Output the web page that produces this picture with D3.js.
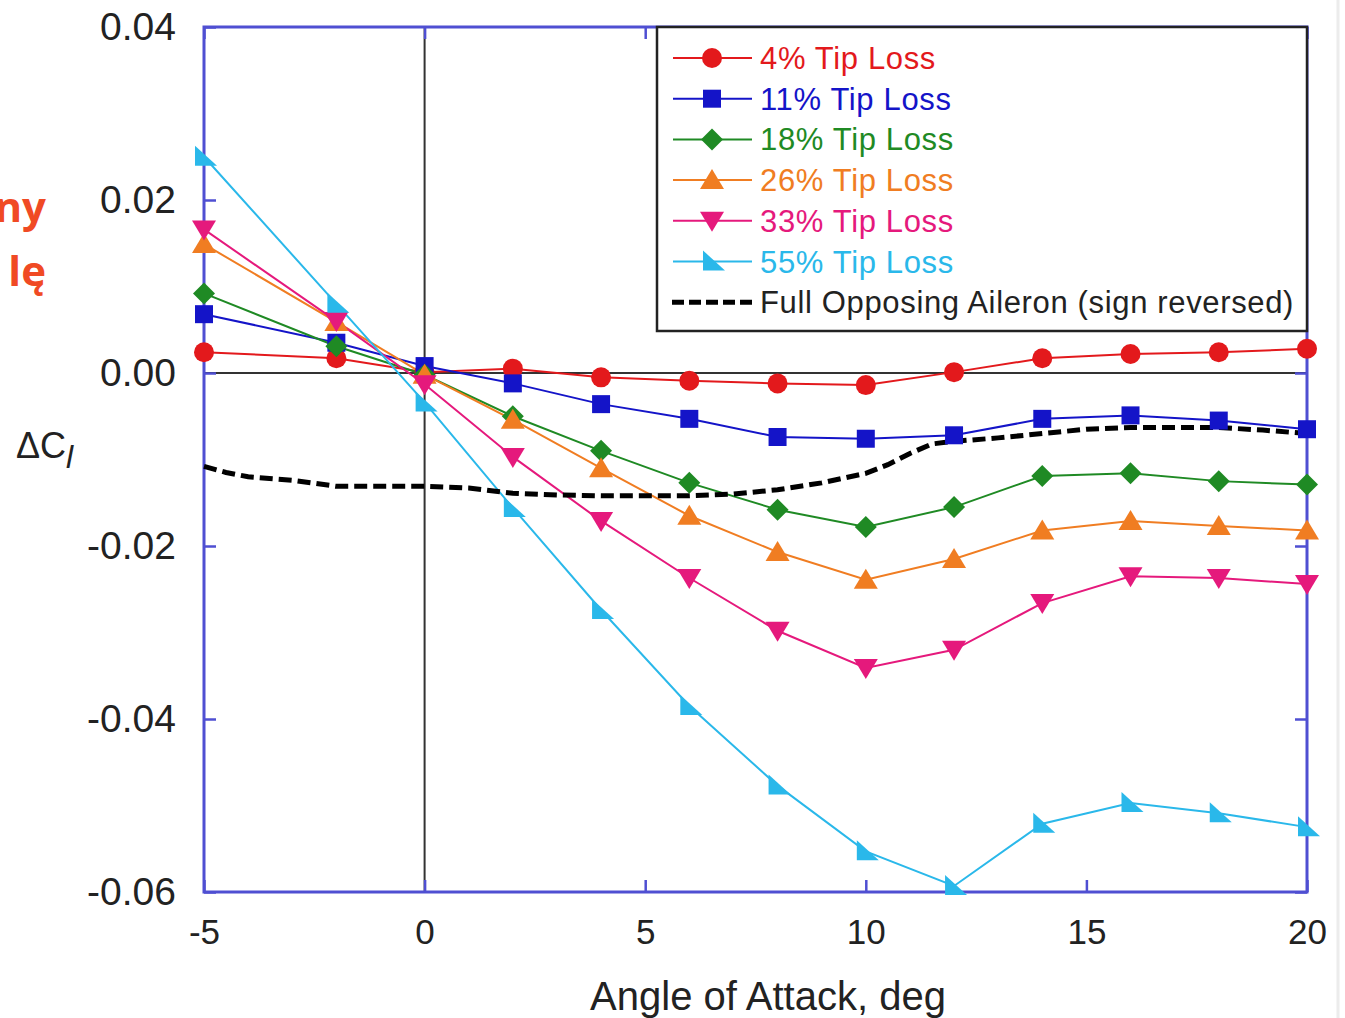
<!DOCTYPE html>
<html>
<head>
<meta charset="utf-8">
<script src="https://cdn.jsdelivr.net/npm/d3@7"></script>
<style>
  html, body { margin: 0; padding: 0; background: #fff; }
  svg { display: block; font-family: "Liberation Sans", Arial, sans-serif; }
</style>
</head>
<body>
<svg id="chart" width="1345" height="1018"></svg>
<script>
// angle of attack, deg
const alpha = [-5, -2, 0, 2, 4, 6, 8, 10, 12, 14, 16, 18, 20];

// delta Cl for each tip loss case
const tip4  = [0.0024, 0.0017, 0.0001, 0.0005, -0.0005, -0.0009, -0.0012, -0.0014, 0.0001, 0.0017, 0.0022, 0.0024, 0.0028];
const tip11 = [0.0068, 0.0035, 0.0008, -0.0012, -0.0036, -0.0053, -0.0074, -0.0076, -0.0072, -0.0053, -0.0049, -0.0055, -0.0065];
const tip18 = [0.0092, 0.0031, -0.0002, -0.0050, -0.0090, -0.0127, -0.0158, -0.0178, -0.0155, -0.0119, -0.0116, -0.0125, -0.0129];
const tip26 = [0.0149, 0.0059, -0.0002, -0.0054, -0.0110, -0.0165, -0.0207, -0.0239, -0.0215, -0.0182, -0.0171, -0.0177, -0.0182];
const tip33 = [0.0166, 0.0060, -0.0013, -0.0097, -0.0171, -0.0237, -0.0298, -0.0341, -0.0320, -0.0266, -0.0235, -0.0237, -0.0244];
const tip55 = [0.0250, 0.0080, -0.0034, -0.0156, -0.0274, -0.0385, -0.0477, -0.0553, -0.0593, -0.0521, -0.0497, -0.0509, -0.0525];

// full opposing aileron, sign reversed
const aileronAlpha = [-5, -4.5, -4, -3, -2, -1, 0, 1, 2, 3, 4, 5, 6, 7, 8, 9, 10, 10.5, 11, 11.5, 12, 13, 14, 15, 16, 17, 18, 19, 20];
const aileronDcl   = [-0.0108, -0.0115, -0.0120, -0.0124, -0.0131, -0.0131, -0.0131, -0.0133, -0.0139, -0.0141, -0.0142, -0.0142, -0.0142, -0.0140, -0.0135, -0.0127, -0.0116, -0.0106, -0.0093, -0.0082, -0.0079, -0.0075, -0.0070, -0.0065, -0.0063, -0.0063, -0.0063, -0.0066, -0.0070];

const seriesNames = ["4% Tip Loss", "11% Tip Loss", "18% Tip Loss", "26% Tip Loss", "33% Tip Loss", "55% Tip Loss"];
const seriesColors = ["#e3191c", "#1414c8", "#1f8a24", "#f07d22", "#e5197c", "#2ab8ea"];
const seriesShapes = ["circle", "square", "diamond", "triUp", "triDown", "triRight"];
const aileronName = "Full Opposing Aileron (sign reversed)";

const xTicks = [-5, 0, 5, 10, 15, 20];
const yTicks = [-0.06, -0.04, -0.02, 0, 0.02, 0.04];

const series = [tip4, tip11, tip18, tip26, tip33, tip55].map(function(vals, i) {
	return {
		name: seriesNames[i],
		color: seriesColors[i],
		shape: seriesShapes[i],
		points: alpha.map(function(a, j) { return {x: a, y: vals[j]}; })
	};
});
const aileron = aileronAlpha.map(function(a, j) { return {x: a, y: aileronDcl[j]}; });

const svg = d3.select("#chart");
const frameColor = "#4f4fd2";

const xScale = d3.scaleLinear().domain([-5, 20]).range([204, 1307]);
const yScale = d3.scaleLinear().domain([-0.06, 0.04]).range([892, 27]);

// plain hyphen for negatives, like the original
function hyphen(fmt) {
	return function(d) { return d3.format(fmt)(d).replace("\u2212", "-"); };
}

// marker outlines
function shapePath(kind, r) {
	const p = d3.path();
	if (kind === "circle") {
		p.arc(0, 0, r, 0, 2 * Math.PI);
	} else if (kind === "square") {
		p.rect(-r * 0.9, -r * 0.9, r * 1.8, r * 1.8);
	} else if (kind === "diamond") {
		p.moveTo(0, -r * 1.1); p.lineTo(r * 1.1, 0); p.lineTo(0, r * 1.1); p.lineTo(-r * 1.1, 0); p.closePath();
	} else if (kind === "triUp") {
		p.moveTo(0, -r * 1.1); p.lineTo(r * 1.2, r * 0.9); p.lineTo(-r * 1.2, r * 0.9); p.closePath();
	} else if (kind === "triDown") {
		p.moveTo(0, r * 1.1); p.lineTo(r * 1.2, -r * 0.9); p.lineTo(-r * 1.2, -r * 0.9); p.closePath();
	} else if (kind === "triRight") {
		p.moveTo(-r * 0.9, -r * 1.1); p.lineTo(r * 1.3, r * 0.9); p.lineTo(-r * 0.9, r * 0.9); p.closePath();
	}
	return p.toString();
}

// faint page edge on the right
svg.append("line")
	.attr("x1", 1338).attr("x2", 1338).attr("y1", 0).attr("y2", 1018)
	.attr("stroke", "#ececec").attr("stroke-width", 3);

// slide text, cut off at the left edge as in the original
svg.append("g")
	.attr("font-family", "'Open Sans', sans-serif")
	.attr("font-weight", "bold")
	.attr("font-size", 42)
	.attr("fill", "#f04a24")
	.attr("text-anchor", "end")
	.selectAll("text")
	.data(["ny", "lę"])
	.enter()
	.append("text")
	.attr("x", 46)
	.attr("y", function(d, i) { return 222 + i * 64; })
	.text(function(d) { return d; });

// zero lines
svg.append("line")
	.attr("x1", xScale(-5)).attr("x2", xScale(20))
	.attr("y1", yScale(0)).attr("y2", yScale(0))
	.attr("stroke", "#333").attr("stroke-width", 2);
svg.append("line")
	.attr("x1", xScale(0)).attr("x2", xScale(0))
	.attr("y1", yScale(0.04)).attr("y2", yScale(-0.06))
	.attr("stroke", "#333").attr("stroke-width", 2);

// axes
const xAxis = svg.append("g")
	.attr("transform", "translate(0," + yScale(-0.06) + ")")
	.call(d3.axisBottom(xScale).tickValues(xTicks).tickFormat(hyphen("d")).tickSize(-12).tickPadding(27));
const xAxisTop = svg.append("g")
	.attr("transform", "translate(0," + yScale(0.04) + ")")
	.call(d3.axisTop(xScale).tickValues(xTicks).tickFormat("").tickSize(-12));
const yAxis = svg.append("g")
	.attr("transform", "translate(" + xScale(-5) + ",0)")
	.call(d3.axisLeft(yScale).tickValues(yTicks).tickFormat(hyphen(".2f")).tickSize(-12).tickPadding(28));
const yAxisRight = svg.append("g")
	.attr("transform", "translate(" + xScale(20) + ",0)")
	.call(d3.axisRight(yScale).tickValues(yTicks).tickFormat("").tickSize(-12));

[xAxis, xAxisTop, yAxis, yAxisRight].forEach(function(ax) {
	ax.select(".domain").remove();
	ax.selectAll(".tick line").attr("stroke", frameColor).attr("stroke-width", 2.5);
	ax.selectAll(".tick text").attr("fill", "#222").attr("font-family", "'Liberation Sans', Arial, sans-serif");
});
xAxis.selectAll(".tick text").attr("font-size", 35);
yAxis.selectAll(".tick text").attr("font-size", 39);

// plot frame
svg.append("rect")
	.attr("x", xScale(-5)).attr("y", yScale(0.04))
	.attr("width", xScale(20) - xScale(-5))
	.attr("height", yScale(-0.06) - yScale(0.04))
	.attr("fill", "none")
	.attr("stroke", frameColor)
	.attr("stroke-width", 3);

// axis titles
svg.append("text")
	.attr("x", 768).attr("y", 1010)
	.attr("text-anchor", "middle")
	.attr("font-size", 40)
	.attr("fill", "#222")
	.text("Angle of Attack, deg");

const yTitle = svg.append("text")
	.attr("x", 16).attr("y", 458)
	.attr("font-size", 36)
	.attr("fill", "#222");
yTitle.append("tspan").text("\u0394C");
yTitle.append("tspan").attr("dy", 10).attr("font-style", "italic").attr("font-size", 32).text("l");

// series lines
const line = d3.line().x(function(d) { return xScale(d.x); }).y(function(d) { return yScale(d.y); });

svg.append("g")
	.selectAll("path")
	.data(series)
	.enter()
	.append("path")
	.attr("d", function(d) { return line(d.points); })
	.attr("fill", "none")
	.attr("stroke", function(d) { return d.color; })
	.attr("stroke-width", 2);

// aileron dashed line
svg.append("path")
	.attr("d", line(aileron))
	.attr("fill", "none")
	.attr("stroke", "#000")
	.attr("stroke-width", 5)
	.attr("stroke-dasharray", "13,6");

// markers
svg.append("g")
	.selectAll("g")
	.data(series)
	.enter()
	.append("g")
	.attr("fill", function(d) { return d.color; })
	.each(function(s) {
		d3.select(this).selectAll("path")
			.data(s.points)
			.enter()
			.append("path")
			.attr("transform", function(d) { return "translate(" + xScale(d.x) + "," + yScale(d.y) + ")"; })
			.attr("d", shapePath(s.shape, 10));
	});

// legend
const legend = svg.append("g");
legend.append("rect")
	.attr("x", 657).attr("y", 27)
	.attr("width", 650).attr("height", 304)
	.attr("fill", "#fff")
	.attr("stroke", "#222")
	.attr("stroke-width", 2.5);

const rowY = function(i) { return 58 + i * 40.7; };

const rows = legend.selectAll("g.row")
	.data(series)
	.enter()
	.append("g")
	.attr("class", "row")
	.attr("transform", function(d, i) { return "translate(0," + rowY(i) + ")"; });
rows.append("line")
	.attr("x1", 673).attr("x2", 752)
	.attr("stroke", function(d) { return d.color; })
	.attr("stroke-width", 2);
rows.append("path")
	.attr("transform", "translate(712,0)")
	.attr("fill", function(d) { return d.color; })
	.attr("d", function(d) { return shapePath(d.shape, 10); });
rows.append("text")
	.attr("x", 760).attr("y", 11)
	.attr("font-size", 31)
	.attr("letter-spacing", 0.65)
	.attr("fill", function(d) { return d.color; })
	.text(function(d) { return d.name; });

const aRow = legend.append("g").attr("transform", "translate(0," + rowY(6) + ")");
aRow.append("line")
	.attr("x1", 672).attr("x2", 756)
	.attr("stroke", "#000").attr("stroke-width", 5)
	.attr("stroke-dasharray", "12,5");
aRow.append("text")
	.attr("x", 760).attr("y", 11)
	.attr("font-size", 31)
	.attr("letter-spacing", 0.65)
	.attr("fill", "#222")
	.text(aileronName);
</script>
</body>
</html>
